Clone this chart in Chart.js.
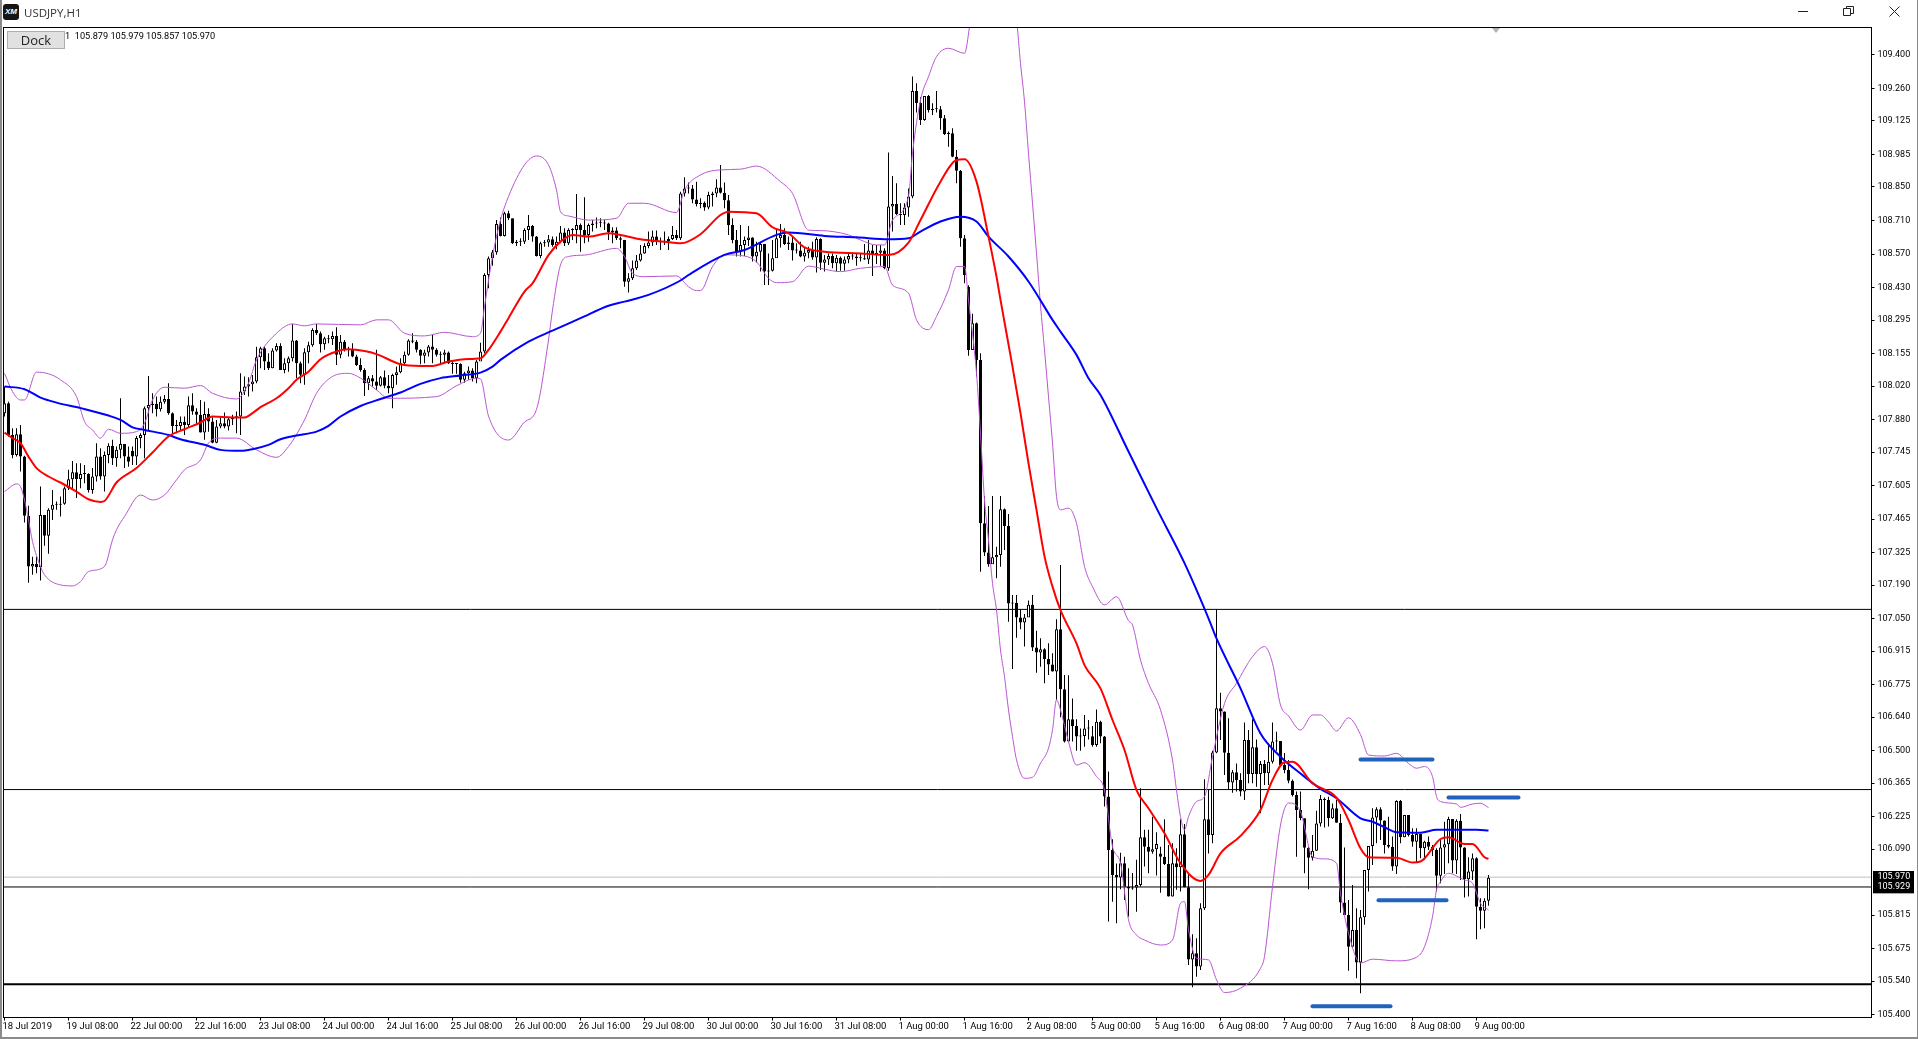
<!DOCTYPE html>
<html><head><meta charset="utf-8"><title>USDJPY,H1</title>
<script src="https://cdn.jsdelivr.net/npm/chart.js@4/dist/chart.umd.js"></script>
<style>
html,body{margin:0;padding:0;background:#fff;overflow:hidden}
#c{position:absolute;left:0;top:0}
.t{position:absolute;white-space:pre;color:#000}
#frameL{position:absolute;left:0;top:0;width:2px;height:1039px;background:#8a8a8a}
#frameB{position:absolute;left:0;top:1037px;width:1918px;height:2px;background:#8a8a8a}
#frameR{position:absolute;left:1917px;top:0;width:1px;height:1039px;background:#8a8a8a}
#logo{position:absolute;left:3px;top:4px;width:16px;height:16px;background:#151515;border-radius:3px;color:#fff;font:italic bold 8px "Liberation Sans";text-align:center;line-height:16px}
#dock{position:absolute;left:7px;top:31px;width:56px;height:16px;background:#e1e1e1;border:1px solid #adadad;font:13px "Open Sans";line-height:16px;text-align:center;color:#222}
#tri{position:absolute;left:1492px;top:28px;width:0;height:0;border-left:4.5px solid transparent;border-right:4.5px solid transparent;border-top:5px solid #b4b4b4}
svg{position:absolute;left:1780px;top:0}
</style></head><body>
<canvas id="c" width="1918" height="1039"></canvas>
<div id="frameL"></div><div id="frameB"></div><div id="frameR"></div>
<div id="logo">XM</div>
<div class="t" style="left:24px;top:5px;font:11.5px 'Open Sans';color:#333">USDJPY,H1</div>
<div id="dock">Dock</div>
<div class="t" style="left:65px;top:30px;font:9.2px Roboto">1  105.879 105.979 105.857 105.970</div>
<div id="tri"></div>
<svg width="138" height="24" fill="none" stroke="#222" stroke-width="1">
<path d="M18 11.5H28"/><path d="M63.5 8.5V15.5H70.5V8.5ZM66.5 8.5V6.5H73.5V13.5H70.5"/><path d="M109.5 6.5L119.5 16.5M119.5 6.5L109.5 16.5"/>
</svg>
<script>
// ---- candles (bar index = position in array, one bar per hour)
const closes=[
107.948,107.816,107.733,107.819,107.726,107.479,107.268,107.278,107.265,107.483,
107.396,107.504,107.525,107.525,107.529,107.594,107.632,107.661,107.633,107.653,
107.653,107.587,107.643,107.726,107.643,107.733,107.771,107.719,107.754,107.778,
107.726,107.705,107.726,107.803,107.816,107.928,107.941,107.946,107.923,107.955,
107.966,107.907,107.854,107.854,107.87,107.858,107.94,107.914,107.9,107.826,
107.904,107.872,107.784,107.851,107.865,107.851,107.882,107.89,107.893,107.997,
108.018,108.028,108.039,108.14,108.178,108.122,108.094,108.168,108.187,108.087,
108.115,108.136,108.21,108.115,108.067,108.161,108.19,108.254,108.24,108.194,
108.219,108.215,108.229,108.15,108.205,108.171,108.173,108.143,108.108,108.087,
108.032,108.053,108.039,108.021,108.057,108.021,108.011,108.066,108.078,108.115,
108.15,108.21,108.205,108.171,108.146,108.16,108.185,108.171,108.15,108.15,
108.16,108.115,108.112,108.112,108.046,108.073,108.085,108.053,108.122,108.164,
108.483,108.553,108.578,108.696,108.646,108.74,108.72,108.615,108.622,108.622,
108.67,108.687,108.643,108.562,108.615,108.618,108.632,108.608,108.622,108.66,
108.615,108.67,108.67,108.691,108.67,108.65,108.691,108.698,108.701,108.701,
108.698,108.66,108.668,108.636,108.63,108.455,108.469,108.511,108.543,108.573,
108.604,108.618,108.643,108.625,108.622,108.625,108.633,108.65,108.636,108.823,
108.844,108.844,108.798,108.779,108.784,108.764,108.816,108.823,108.848,108.826,
108.795,108.691,108.629,108.58,108.608,108.629,108.639,108.56,108.58,108.612,
108.497,108.501,108.553,108.636,108.65,108.612,108.618,108.585,108.585,108.56,
108.576,108.587,108.556,108.633,108.534,108.548,108.562,108.532,108.555,108.53,
108.548,108.562,108.56,108.553,108.553,108.548,108.585,108.566,108.576,108.585,
108.511,108.768,108.779,108.737,108.733,108.764,108.81,109.25,109.2,109.129,
109.229,109.171,109.174,109.174,109.136,109.071,109.074,108.976,108.918,108.636,
108.483,108.17,108.282,108.129,107.448,107.326,107.277,107.306,107.316,107.506,
107.437,107.114,107.117,107.055,107.034,107.055,107.108,106.93,106.909,106.923,
106.882,106.859,106.83,107.006,106.756,106.538,106.631,106.603,106.559,106.561,
106.593,106.597,106.524,106.621,106.559,106.309,106.086,105.982,105.971,106.031,
105.933,105.926,105.93,105.94,106.139,106.1,106.079,106.089,106.111,106.058,
106.028,105.892,106.031,106.014,106.152,105.931,105.63,105.656,105.6,105.843,
106.214,106.149,106.493,106.677,106.663,106.492,106.367,106.41,106.378,106.33,
106.545,106.403,106.514,106.403,106.445,106.406,106.454,106.538,106.54,106.44,
106.42,106.375,106.315,106.253,106.218,106.096,106.054,106.083,106.197,106.299,
106.295,106.218,106.26,106.2,105.867,105.815,105.683,105.753,105.617,105.806,
106.003,106.103,106.222,106.256,106.209,106.107,106.1,106.017,106.29,106.139,
106.232,106.149,106.121,106.153,106.093,106.121,106.1,106.086,105.979,106.097,
106.11,106.215,106.042,106.208,106.097,105.964,105.996,106.052,105.85,105.833,
105.875,105.97];
const highs=[
108.018,107.955,107.844,107.844,107.858,107.729,107.521,107.309,107.309,107.601,
107.483,107.511,107.587,107.539,107.56,107.601,107.671,107.708,107.698,107.698,
107.691,107.657,107.678,107.782,107.761,107.747,107.782,107.796,107.768,107.969,
107.778,107.768,107.768,107.812,107.823,107.935,108.062,107.99,107.976,107.976,
107.983,108.032,107.91,107.879,107.893,107.893,107.976,107.99,107.928,107.962,
107.955,107.928,107.89,107.879,107.893,107.91,107.89,107.9,107.914,108.073,
108.06,108.057,108.066,108.184,108.184,108.184,108.157,108.178,108.198,108.198,
108.136,108.143,108.279,108.212,108.122,108.178,108.205,108.261,108.279,108.247,
108.226,108.233,108.247,108.265,108.233,108.212,108.184,108.198,108.15,108.136,
108.094,108.062,108.066,108.171,108.062,108.085,108.066,108.071,108.101,108.136,
108.164,108.215,108.24,108.212,108.173,108.171,108.191,108.233,108.178,108.164,
108.171,108.164,108.129,108.115,108.115,108.08,108.101,108.094,108.129,108.201,
108.49,108.56,108.587,108.712,108.723,108.747,108.751,108.718,108.629,108.636,
108.678,108.733,108.691,108.646,108.622,108.629,108.65,108.643,108.643,108.687,
108.678,108.678,108.678,108.821,108.698,108.807,108.698,108.712,108.723,108.719,
108.712,108.701,108.682,108.682,108.643,108.629,108.49,108.543,108.566,108.608,
108.615,108.664,108.668,108.668,108.639,108.664,108.643,108.687,108.671,108.83,
108.89,108.868,108.858,108.872,108.803,108.789,108.83,108.83,108.882,108.941,
108.868,108.816,108.719,108.671,108.691,108.643,108.687,108.64,108.622,108.622,
108.612,108.573,108.629,108.671,108.696,108.678,108.643,108.643,108.615,108.622,
108.594,108.601,108.622,108.64,108.636,108.566,108.573,108.573,108.566,108.56,
108.56,108.573,108.573,108.573,108.573,108.612,108.629,108.608,108.608,108.608,
108.594,108.994,108.896,108.865,108.782,108.782,108.844,109.31,109.282,109.224,
109.229,109.233,109.199,109.25,109.187,109.15,109.081,109.095,109.004,108.921,
108.65,108.44,108.321,108.285,108.157,107.562,107.52,107.562,107.35,107.562,
107.51,107.487,107.149,107.149,107.089,107.07,107.126,107.149,107.0,106.969,
106.927,106.948,106.906,107.048,107.274,106.816,106.815,106.718,106.631,106.593,
106.649,106.628,106.603,106.672,106.625,106.561,106.413,106.131,106.03,106.075,
106.058,106.01,105.99,106.045,106.343,106.17,106.17,106.225,106.16,106.1,
106.214,106.107,106.114,106.093,106.214,106.195,105.989,105.735,105.718,105.864,
106.381,106.336,106.5,107.09,106.742,106.663,106.635,106.42,106.447,106.406,
106.618,106.586,106.631,106.547,106.457,106.461,106.53,106.618,106.579,106.54,
106.49,106.461,106.38,106.33,106.33,106.218,106.1,106.149,106.25,106.315,
106.305,106.308,106.28,106.295,106.236,106.097,105.878,105.94,105.843,105.836,
106.003,106.103,106.26,106.264,106.264,106.209,106.225,106.142,106.293,106.295,
106.232,106.232,106.177,106.177,106.155,106.125,106.142,106.107,106.093,106.128,
106.204,106.225,106.215,106.214,106.236,106.098,106.056,106.072,106.056,105.885,
105.885,105.982];
const lows=[
107.893,107.81,107.719,107.726,107.664,107.451,107.2,107.233,107.24,107.209,
107.354,107.321,107.462,107.504,107.476,107.525,107.587,107.594,107.553,107.594,
107.615,107.576,107.571,107.622,107.629,107.58,107.698,107.691,107.684,107.719,
107.678,107.684,107.691,107.691,107.761,107.719,107.837,107.907,107.893,107.914,
107.946,107.9,107.823,107.823,107.837,107.816,107.848,107.9,107.865,107.826,
107.796,107.83,107.782,107.782,107.844,107.844,107.835,107.858,107.823,107.816,
107.983,107.976,107.997,108.032,108.094,108.087,108.087,108.094,108.164,108.087,
108.073,108.08,108.122,108.053,108.032,108.025,108.115,108.184,108.233,108.16,
108.171,108.198,108.191,108.108,108.136,108.164,108.143,108.14,108.104,108.08,
107.979,108.004,108.018,108.004,108.018,108.011,107.99,107.928,108.025,108.073,
108.108,108.146,108.198,108.16,108.111,108.115,108.143,108.115,108.143,108.115,
108.115,108.112,108.071,108.071,108.034,108.034,108.046,108.039,108.032,108.129,
108.157,108.428,108.521,108.567,108.643,108.643,108.712,108.612,108.604,108.604,
108.612,108.629,108.622,108.56,108.553,108.601,108.601,108.601,108.59,108.615,
108.604,108.608,108.629,108.615,108.58,108.615,108.622,108.664,108.678,108.682,
108.671,108.629,108.615,108.629,108.594,108.434,108.41,108.462,108.504,108.539,
108.571,108.594,108.604,108.608,108.587,108.608,108.587,108.629,108.629,108.629,
108.81,108.823,108.782,108.768,108.761,108.751,108.757,108.768,108.807,108.823,
108.761,108.65,108.615,108.56,108.56,108.562,108.604,108.539,108.535,108.497,
108.441,108.441,108.497,108.557,108.598,108.608,108.587,108.543,108.573,108.557,
108.539,108.553,108.546,108.493,108.504,108.497,108.525,108.511,108.497,108.501,
108.501,108.532,108.546,108.521,108.539,108.546,108.529,108.479,108.529,108.521,
108.507,108.501,108.664,108.733,108.691,108.691,108.726,108.803,109.16,109.108,
109.126,109.16,109.15,109.16,109.088,109.067,109.018,108.974,108.865,108.601,
108.449,108.146,108.171,108.06,107.246,107.312,107.267,107.281,107.219,107.267,
107.337,107.038,106.841,106.971,107.006,106.934,107.059,106.916,106.825,106.85,
106.781,106.816,106.83,106.712,106.639,106.534,106.538,106.538,106.5,106.5,
106.517,106.547,106.517,106.517,106.531,106.267,105.788,105.87,105.781,105.922,
105.878,105.808,105.92,105.829,105.933,106.017,105.989,106.07,105.98,105.908,
106.024,105.892,105.892,105.92,105.913,105.931,105.607,105.514,105.558,105.586,
105.836,106.072,106.114,106.489,106.545,106.399,106.336,106.325,106.33,106.31,
106.295,106.364,106.364,106.35,106.239,106.357,106.357,106.447,106.5,106.44,
106.406,106.364,106.309,106.058,106.21,105.989,105.922,106.042,106.083,106.184,
106.18,106.184,106.215,106.2,105.825,105.815,105.583,105.683,105.552,105.489,
105.774,105.913,106.024,106.114,106.128,106.072,106.093,106.0,105.986,106.114,
106.139,106.142,106.1,106.033,106.052,106.045,106.086,106.061,105.913,105.947,
105.986,106.031,105.989,105.986,105.961,105.888,105.892,105.961,105.714,105.756,
105.76,105.854];
// bars that do not open at the previous close
const gapOpenBars=[0,32,241,272,289];
const gapOpenVals=[107.907,107.75,108.433,106.56,106.072];
// ---- tick labels
const xTickBars=[0,16,32,48,64,80,96,112,128,144,160,176,192,208,224,240,256,272,288,304,320,336,352,368];
const xTickLabels=["18 Jul 2019","19 Jul 08:00","22 Jul 00:00","22 Jul 16:00","23 Jul 08:00","24 Jul 00:00","24 Jul 16:00","25 Jul 08:00","26 Jul 00:00","26 Jul 16:00","29 Jul 08:00","30 Jul 00:00","30 Jul 16:00","31 Jul 08:00","1 Aug 00:00","1 Aug 16:00","2 Aug 08:00","5 Aug 00:00","5 Aug 16:00","6 Aug 08:00","7 Aug 00:00","7 Aug 16:00","8 Aug 08:00","9 Aug 00:00"];
const yTicks=[109.4,109.26,109.125,108.985,108.85,108.71,108.57,108.43,108.295,108.155,108.02,107.88,107.745,107.605,107.465,107.325,107.19,107.05,106.915,106.775,106.64,106.5,106.365,106.225,106.09,105.815,105.675,105.54,105.4];
// ---- moving averages and bands: bar index / value
const blueBars=[0,5,9,13,19,26,29,32,35,41,44,50,54,59,62,66,69,73,78,81,84,89,94,99,104,109,114,119,122,124,131,137,144,151,155,161,169,171,180,185,193,196,205,213,221,226,229,234,239,243,246,251,256,262,264,268,271,274,281,288,295,301,303,309,314,319,324,329,333,339,342,345,348,354,358,368,371];
const blueVals=[108.018,108.007,107.972,107.951,107.928,107.897,107.879,107.848,107.837,107.816,107.798,107.775,107.754,107.75,107.757,107.775,107.798,107.814,107.83,107.854,107.893,107.937,107.966,107.993,108.029,108.053,108.064,108.076,108.101,108.129,108.205,108.251,108.303,108.355,108.372,108.4,108.46,108.483,108.567,108.587,108.65,108.66,108.646,108.64,108.632,108.636,108.664,108.706,108.726,108.706,108.643,108.56,108.456,108.296,108.247,108.15,108.053,107.983,107.747,107.511,107.282,107.052,106.968,106.76,106.572,106.475,106.405,106.341,106.302,106.218,106.204,106.181,106.16,106.158,106.17,106.17,106.167];
const redBars=[0,2,4,6,8,11,14,18,21,24,25,28,33,37,41,45,49,52,57,60,62,64,68,71,73,76,79,83,86,90,93,99,104,107,111,115,119,121,124,126,130,132,136,139,142,146,151,154,159,165,169,174,179,181,188,192,196,200,205,214,221,226,229,234,238,240,243,246,248,249,252,254,256,258,260,262,264,268,270,274,277,280,283,286,290,294,299,301,304,309,314,317,320,322,327,333,336,339,341,348,352,354,359,361,365,367,370,371];
const redVals=[107.826,107.803,107.782,107.726,107.678,107.643,107.618,107.58,107.548,107.537,107.541,107.618,107.678,107.743,107.81,107.84,107.868,107.893,107.889,107.889,107.907,107.932,107.969,108.011,108.046,108.08,108.132,108.164,108.173,108.166,108.153,108.111,108.104,108.104,108.122,108.132,108.136,108.171,108.247,108.303,108.414,108.448,108.566,108.622,108.65,108.643,108.657,108.65,108.632,108.622,108.615,108.653,108.733,108.747,108.74,108.682,108.657,108.598,108.58,108.573,108.566,108.618,108.712,108.872,108.962,108.965,108.872,108.643,108.476,108.379,108.101,107.907,107.698,107.504,107.31,107.184,107.086,106.947,106.857,106.76,106.628,106.503,106.336,106.26,106.156,106.031,105.957,105.982,106.072,106.145,106.253,106.378,106.452,106.454,106.364,106.304,106.211,106.093,106.056,106.054,106.034,106.038,106.132,106.139,106.111,106.111,106.056,106.049];
const upperBars=[0,2,4,5,8,11,14,18,20,22,24,26,29,33,35,37,40,45,49,52,58,61,63,68,72,75,78,89,93,96,100,105,110,117,119,120,122,124,126,130,133,136,138,139,141,146,153,156,160,168,170,174,179,184,188,194,197,201,204,211,214,218,220,222,226,227,229,231,233,236,240,241.5,243,251,253,254,255,256,257,258,259,260,261,262,263,264,266,268,270,272,275,278,281,282,284,286,289,292,293,294,295,296,298,300,302,305,308,312,315,317,319,321,324,327,329,331,333,336,339,341,345,348,351,353,355,357,358,359,363,364,367,369,371];
const upperVals=[108.073,107.997,107.962,107.962,108.078,108.071,108.046,107.976,107.872,107.837,107.803,107.84,107.823,107.83,107.865,107.962,108.015,108.011,108.022,107.99,107.966,108.032,108.129,108.24,108.279,108.271,108.279,108.275,108.296,108.296,108.24,108.229,108.244,108.226,108.24,108.351,108.56,108.712,108.81,108.942,108.979,108.942,108.837,108.747,108.729,108.712,108.719,108.782,108.782,108.743,108.837,108.9,108.921,108.924,108.937,108.872,108.823,108.67,108.668,108.65,108.629,108.608,108.608,108.712,108.81,108.99,109.212,109.31,109.393,109.428,109.407,109.546,109.7,109.7,109.546,109.365,109.205,108.99,108.782,108.574,108.358,108.171,107.976,107.782,107.56,107.504,107.511,107.448,107.268,107.184,107.108,107.142,107.042,107.024,106.878,106.781,106.67,106.461,106.336,106.225,106.17,106.225,106.288,106.309,106.475,106.697,106.781,106.892,106.934,106.864,106.69,106.645,106.586,106.649,106.649,106.62,106.582,106.637,106.567,106.482,106.478,106.489,106.447,106.427,106.434,106.392,106.309,106.288,106.278,106.264,106.278,106.281,106.263];
const lowerBars=[0,3,4,5,6,7,9,10,14,17,19,21,25,27,28,30,34,37,40,43,45,49,51,54,58,63,68,71,75,78,82,86,89,93,96,108,113,118,119,121,126,130,133,136,137,139,141,145,153,155,157,160,168,171,173,174,177,180,185,188,191,193,197,201,205,209,214,220,222,226,228,231,233,236,238,240,241,243,244,245,246,247,248,249,250,251,252,253,255,257,259,261,262,263,264,266,268,270,273,275,277,279,281,283,285,289,292,294,295,296,298,301,303,305,309,314,315,317,319,321,324,327,330,333,334,336,339,342,348,353,355,357,358,359,361,365,367,369,371];
const lowerVals=[107.58,107.612,107.601,107.545,107.462,107.372,107.268,107.233,107.191,107.187,107.205,107.247,107.268,107.379,107.421,107.476,107.566,107.545,107.566,107.629,107.671,107.712,107.782,107.803,107.803,107.754,107.723,107.768,107.879,107.99,108.06,108.073,108.053,108.004,107.969,107.976,108.021,108.053,108.05,107.895,107.795,107.87,107.923,108.212,108.337,108.525,108.56,108.566,108.594,108.56,108.49,108.476,108.479,108.434,108.418,108.418,108.518,108.567,108.562,108.538,108.469,108.451,108.455,108.52,108.507,108.497,108.511,108.518,108.441,108.407,108.296,108.255,108.31,108.421,108.518,108.518,108.379,108.073,107.823,107.545,107.379,107.198,107.087,106.92,106.809,106.67,106.559,106.462,106.385,106.389,106.448,106.51,106.587,106.712,106.67,106.538,106.44,106.45,106.392,106.336,106.1,106.031,105.795,105.732,105.711,105.69,105.711,105.864,105.871,105.753,105.635,105.628,105.545,105.492,105.51,105.593,105.642,105.933,106.19,106.282,106.246,106.058,106.049,106.031,105.906,105.739,105.615,105.631,105.624,105.639,105.683,105.808,105.92,105.954,105.989,105.961,105.947,105.864,105.836];
// ---- horizontal levels and hand-drawn marks
const levelsThin=[107.089,106.338,105.932];
const levelThick=105.527;
const bidLevel=105.973;
const bidLabels=["105.970","105.929"];
const markBarsA=[339,361,343.5,327];
const markBarsB=[357,378.5,360.5,346.5];
const markVals=[106.463,106.305,105.877,105.435];

const xMin=-0.25,xMax=466.75,yMax=109.5146,yMin=105.3879;
const opens=closes.map((c,i)=>{const g=gapOpenBars.indexOf(i);return g>=0?gapOpenVals[g]:closes[i-1];});
const zip=(a,b)=>a.map((x,i)=>({x,y:b[i]}));
const line=(data,color,width,order,extra)=>Object.assign({type:'line',data,borderColor:color,borderWidth:width,pointRadius:0,tension:0,order,fill:false},extra||{});
const smooth={cubicInterpolationMode:'monotone'};
const levelLine=(v,color,width)=>line([{x:xMin,y:v},{x:xMax,y:v}],color,width,9);
const datasets=[
 {type:'bar',data:closes.map((c,i)=>({x:i,y:[lows[i],highs[i]]})),backgroundColor:'#000',barThickness:1,borderWidth:0,grouped:false,inflateAmount:0,order:6},
 {type:'bar',data:closes.map((c,i)=>({x:i,y:[opens[i],c]})),backgroundColor:closes.map((c,i)=>c>=opens[i]?'#fff':'#000'),borderColor:'#000',borderWidth:1,borderSkipped:false,barThickness:3,grouped:false,inflateAmount:0,minBarLength:1,order:5},
 line(zip(upperBars,upperVals),'#ba55d3',1,4,smooth),
 line(zip(lowerBars,lowerVals),'#ba55d3',1,4,smooth),
 line(zip(blueBars,blueVals),'#0000ff',2,3,smooth),
 line(zip(redBars,redVals),'#ff0000',2,2,smooth),
 levelLine(bidLevel,'#c0c0c0',1),
 levelLine(levelThick,'#000',2),
 ...levelsThin.map(v=>levelLine(v,'#000',1)),
 ...markVals.map((v,i)=>line([{x:markBarsA[i],y:v},{x:markBarsB[i],y:v}],'#2062bd',4,1,{borderCapStyle:'round'}))
];
const overlay={id:'overlay',afterDraw(ch){
 const c=ch.ctx,a=ch.chartArea,y=ch.scales.y;
 c.save();c.strokeStyle='#000';c.lineWidth=1;c.strokeRect(a.left,a.top,a.right-a.left,a.bottom-a.top);
 const y1=y.getPixelForValue(bidLevel),y2=y.getPixelForValue(levelsThin[2]);
 c.fillStyle='#000';c.fillRect(1873,Math.round(y1)-6,41,y2-y1+12.5);
 c.fillStyle='#fff';c.font='9px Roboto';c.textBaseline='middle';c.textAlign='left';
 c.fillText(bidLabels[0],1877.5,y1);c.fillText(bidLabels[1],1877.5,y2);
 c.restore();
}};
new Chart(document.getElementById('c'),{type:'bar',data:{datasets},plugins:[overlay],options:{
 responsive:false,animation:false,devicePixelRatio:1,events:[],
 layout:{autoPadding:false,padding:{left:3.5,top:27.5,right:0,bottom:0}},
 plugins:{legend:{display:false},tooltip:{enabled:false},title:{display:false}},
 scales:{
  x:{type:'linear',min:xMin,max:xMax,offset:false,position:'bottom',
   grid:{display:true,offset:false,drawOnChartArea:false,drawTicks:true,tickLength:3,tickColor:'#000'},border:{display:true,color:'#000'},
   afterBuildTicks(s){s.ticks=xTickBars.map(v=>({value:v}));},
   afterFit(s){s.height=21.5;},
   ticks:{autoSkip:false,maxRotation:0,minRotation:0,align:'start',labelOffset:-2,padding:0,color:'#000',font:{family:'Roboto',size:9.5},callback:v=>xTickLabels[xTickBars.indexOf(v)]}},
  y:{type:'linear',min:yMin,max:yMax,position:'right',beginAtZero:false,
   grid:{display:true,drawOnChartArea:false,drawTicks:true,tickLength:3,tickColor:'#000'},border:{display:true,color:'#000'},
   afterBuildTicks(s){s.ticks=yTicks.map(v=>({value:v}));},
   afterFit(s){s.width=46.5;},
   ticks:{autoSkip:false,padding:3,color:'#000',crossAlign:'near',font:{family:'Roboto',size:9},callback:v=>v.toFixed(3)}}
 }}});
</script></body></html>
